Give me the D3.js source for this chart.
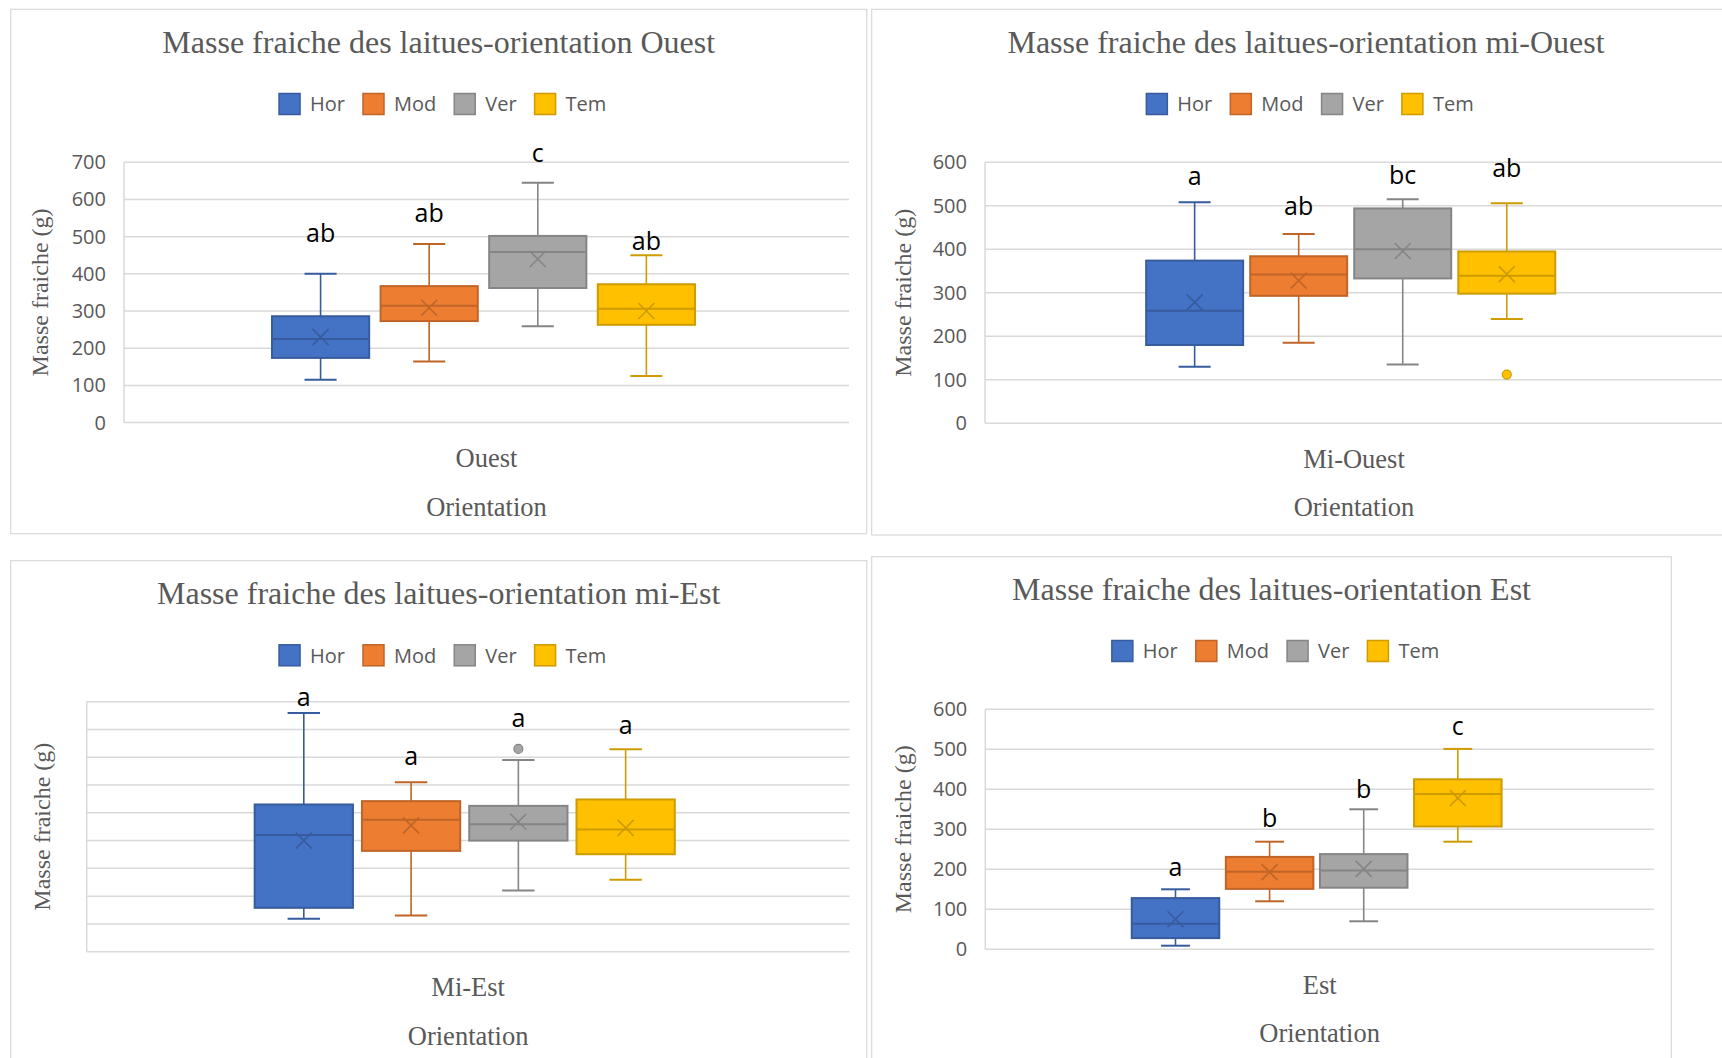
<!DOCTYPE html>
<html>
<head>
<meta charset="utf-8">
<script src="https://cdn.jsdelivr.net/npm/d3@7"></script>
<style>
  body { margin: 0; background: #fff; }
  svg { display: block; }
</style>
</head>
<body>
<div id="chart"></div>
<script>
// Box plots of lettuce fresh mass, one panel per orientation
const series = ["Hor", "Mod", "Ver", "Tem"];
const seriesColors = ["#4472C4", "#ED7D31", "#A5A5A5", "#FFC000"];
const orientations = ["Ouest", "Mi-Ouest", "Mi-Est", "Est"];
const titleNames = ["Ouest", "mi-Ouest", "mi-Est", "Est"];
const yMaxima = [700, 600, 900, 600];
const yStep = 100;

// each row: [min, Q1, median, Q3, max, mean] for Hor, Mod, Ver, Tem
const ouestStats = [
  [115, 174, 225, 286, 400, 230],
  [164, 273, 314, 367, 480, 309],
  [259, 362, 459, 502, 645, 440],
  [125, 263, 306, 372, 450, 300]
];
const miOuestStats = [
  [130, 180, 259, 374, 508, 278],
  [185, 293, 342, 384, 435, 328],
  [135, 333, 400, 494, 515, 396],
  [240, 298, 339, 395, 506, 343]
];
const miEstStats = [
  [119, 158, 420, 530, 859, 400],
  [130, 363, 475, 542, 610, 455],
  [220, 400, 459, 525, 690, 468],
  [259, 351, 440, 548, 729, 446]
];
const estStats = [
  [9, 28, 64, 128, 150, 75],
  [120, 151, 194, 231, 269, 193],
  [70, 154, 197, 238, 350, 201],
  [269, 307, 388, 425, 501, 378]
];

// outliers per series
const ouestOutliers = [[], [], [], []];
const miOuestOutliers = [[], [], [], [112]];
const miEstOutliers = [[], [], [730], []];
const estOutliers = [[], [], [], []];

// significance letters and the value where their baseline sits
const ouestLetters = ["ab", "ab", "c", "ab"];
const ouestLetterY = [485, 540, 700, 464];
const miOuestLetters = ["a", "ab", "bc", "ab"];
const miOuestLetterY = [547, 478, 549, 566];
const miEstLetters = ["a", "a", "a", "a"];
const miEstLetterY = [885, 672, 808, 784];
const estLetters = ["a", "b", "b", "c"];
const estLetterY = [183, 306, 379, 536];

const allStats = [ouestStats, miOuestStats, miEstStats, estStats];
const allOutliers = [ouestOutliers, miOuestOutliers, miEstOutliers, estOutliers];
const allLetters = [ouestLetters, miOuestLetters, miEstLetters, estLetters];
const allLetterY = [ouestLetterY, miOuestLetterY, miEstLetterY, estLetterY];

// panel layout
const panels = [
  { x: 10.7, y: 9.3, w: 856, h: 524.4, l: 124, r: 849, t: 162.3, b: 422.6,
    titleY: 53.3, legendY: 104, yTitleX: 40, outer: 0.357, inner: 0.105, ticks: true },
  { x: 871.7, y: 9.3, w: 868.6, h: 525.7, l: 985, r: 1723, t: 162.3, b: 423.3,
    titleY: 53.3, legendY: 104, yTitleX: 903, outer: 0.402, inner: 0.068, ticks: true },
  { x: 10.7, y: 560.7, w: 856, h: 600, l: 86.7, r: 849.6, t: 701.7, b: 951.7,
    titleY: 604, legendY: 655.3, yTitleX: 41.7, outer: 0.408, inner: 0.084, ticks: false },
  { x: 871.7, y: 556.7, w: 799.6, h: 600, l: 985.3, r: 1654, t: 709.3, b: 949.3,
    titleY: 600, legendY: 651, yTitleX: 903, outer: 0.404, inner: 0.07, ticks: true }
];

const W = 1722, H = 1058;
const serif = "'Liberation Serif', 'Times New Roman', serif";
const sans = "'Open Sans', 'Noto Sans', sans-serif";
const textGray = "#595959";
const gridGray = "#D9D9D9";

const svg = d3.select("#chart").append("svg")
  .attr("width", W)
  .attr("height", H);

const strokeOf = c => d3.color(c).darker(0.6).formatHex();

panels.forEach((p, i) => {
  const g = svg.append("g");
  const cx = p.x + p.w / 2;

  // panel frame
  g.append("rect")
    .attr("x", p.x).attr("y", p.y)
    .attr("width", p.w).attr("height", p.h)
    .attr("fill", "#fff")
    .attr("stroke", gridGray)
    .attr("stroke-width", 1.2);

  // title
  g.append("text")
    .attr("x", cx).attr("y", p.titleY)
    .attr("text-anchor", "middle")
    .style("font-family", serif)
    .style("font-size", "32px")
    .style("fill", textGray)
    .text("Masse fraiche des laitues-orientation " + titleNames[i]);

  // legend
  const leg = g.append("g");
  let lx = 0;
  series.forEach((s, k) => {
    const item = leg.append("g").attr("transform", `translate(${lx},0)`);
    item.append("rect")
      .attr("x", 0).attr("y", -10.5)
      .attr("width", 21).attr("height", 21)
      .attr("fill", seriesColors[k])
      .attr("stroke", strokeOf(seriesColors[k]))
      .attr("stroke-width", 1.5);
    const t = item.append("text")
      .attr("x", 31).attr("y", 0).attr("dy", "0.36em")
      .style("font-family", sans)
      .style("font-size", "20px")
      .style("fill", textGray)
      .text(s);
    lx += 31 + t.node().getComputedTextLength() + 18;
  });
  const legW = lx - 18;
  leg.attr("transform", `translate(${cx + 4 - legW / 2},${p.legendY})`);

  // scales
  const y = d3.scaleLinear().domain([0, yMaxima[i]]).range([p.b, p.t]);
  const x0 = d3.scaleBand().domain([orientations[i]]).range([p.l, p.r])
    .paddingInner(0).paddingOuter(p.outer).align(0.49);
  const x1 = d3.scaleBand().domain(series).range([0, x0.bandwidth()])
    .paddingInner(p.inner).paddingOuter(0);

  // gridlines
  const tickVals = d3.range(0, yMaxima[i] + 1, yStep);
  g.append("g").selectAll("line").data(tickVals).join("line")
    .attr("x1", p.l).attr("x2", p.r)
    .attr("y1", d => y(d)).attr("y2", d => y(d))
    .attr("stroke", gridGray)
    .attr("stroke-width", 1.5);
  g.append("line")
    .attr("x1", p.l).attr("x2", p.l)
    .attr("y1", p.t).attr("y2", p.b)
    .attr("stroke", gridGray)
    .attr("stroke-width", 1.5);

  // y axis labels
  if (p.ticks) {
    const axis = g.append("g")
      .attr("transform", `translate(${p.l},0)`)
      .call(d3.axisLeft(y).tickValues(tickVals).tickSize(0).tickPadding(18));
    axis.select(".domain").remove();
    axis.selectAll("text")
      .style("font-family", sans)
      .style("font-size", "20px")
      .style("fill", textGray);
  }

  // axis titles
  g.append("text")
    .attr("transform", `translate(${p.yTitleX},${(p.t + p.b) / 2}) rotate(-90)`)
    .attr("dy", "0.35em")
    .attr("text-anchor", "middle")
    .style("font-family", serif)
    .style("font-size", "24px")
    .style("fill", textGray)
    .text("Masse fraiche (g)");

  const catX = p.l + (p.r - p.l) / 2;
  g.append("text")
    .attr("x", catX).attr("y", p.b + 44.5)
    .attr("text-anchor", "middle")
    .style("font-family", serif)
    .style("font-size", "26.5px")
    .style("fill", textGray)
    .text(orientations[i]);
  g.append("text")
    .attr("x", catX).attr("y", p.b + 93)
    .attr("text-anchor", "middle")
    .style("font-family", serif)
    .style("font-size", "26.5px")
    .style("fill", textGray)
    .text("Orientation");

  // boxes
  const stats = allStats[i];
  const bw = x1.bandwidth();
  const capW = bw * 0.33;
  series.forEach((s, k) => {
    const [mn, q1, med, q3, mx, mean] = stats[k];
    const fill = seriesColors[k];
    const stroke = strokeOf(fill);
    const bx = x0(orientations[i]) + x1(s);
    const mid = bx + bw / 2;
    const bg = g.append("g");

    // whiskers
    bg.append("line")
      .attr("x1", mid).attr("x2", mid)
      .attr("y1", y(mx)).attr("y2", y(q3))
      .attr("stroke", stroke).attr("stroke-width", 1.6);
    bg.append("line")
      .attr("x1", mid).attr("x2", mid)
      .attr("y1", y(q1)).attr("y2", y(mn))
      .attr("stroke", stroke).attr("stroke-width", 1.6);
    [mx, mn].forEach(v => {
      bg.append("line")
        .attr("x1", mid - capW / 2).attr("x2", mid + capW / 2)
        .attr("y1", y(v)).attr("y2", y(v))
        .attr("stroke", stroke).attr("stroke-width", 2);
    });

    // box
    bg.append("rect")
      .attr("x", bx).attr("y", y(q3))
      .attr("width", bw).attr("height", y(q1) - y(q3))
      .attr("fill", fill)
      .attr("stroke", stroke)
      .attr("stroke-width", 2);

    // median
    bg.append("line")
      .attr("x1", bx).attr("x2", bx + bw)
      .attr("y1", y(med)).attr("y2", y(med))
      .attr("stroke", stroke).attr("stroke-width", 2);

    // mean marker
    const my = y(mean);
    bg.append("path")
      .attr("d", `M${mid - 8},${my - 8}L${mid + 8},${my + 8}M${mid - 8},${my + 8}L${mid + 8},${my - 8}`)
      .attr("stroke", stroke).attr("stroke-width", 1.6)
      .attr("fill", "none");

    // outliers
    bg.selectAll("circle").data(allOutliers[i][k]).join("circle")
      .attr("cx", mid).attr("cy", d => y(d))
      .attr("r", 4.5)
      .attr("fill", fill)
      .attr("stroke", stroke)
      .attr("stroke-width", 1.2);

    // letter
    g.append("text")
      .attr("x", mid).attr("y", y(allLetterY[i][k]))
      .attr("text-anchor", "middle")
      .style("font-family", sans)
      .style("font-size", "25px")
      .style("fill", "#000")
      .text(allLetters[i][k]);
  });
});
</script>
</body>
</html>
